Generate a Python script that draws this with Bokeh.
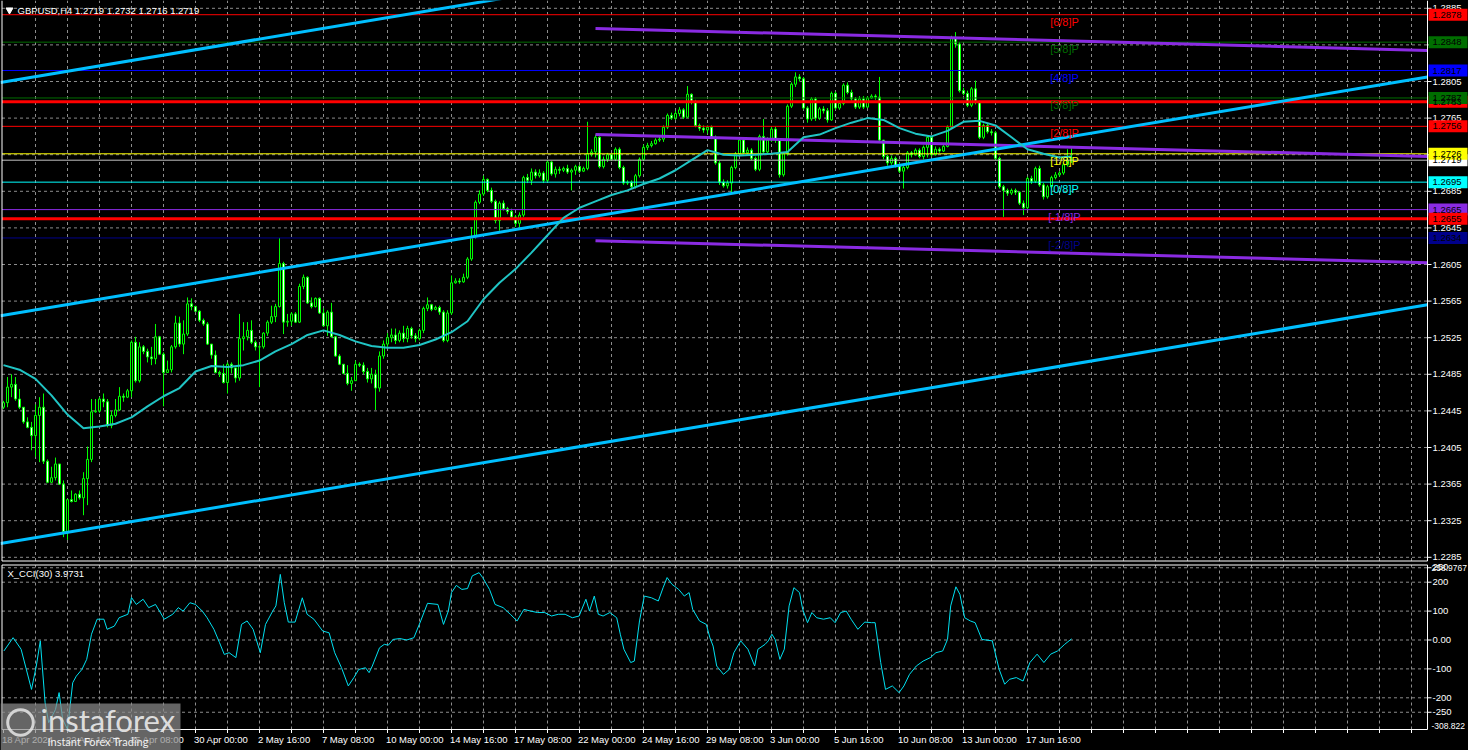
import numpy as np
from bokeh.plotting import figure
from bokeh.layouts import column
from bokeh.models import Range1d
from bokeh.core.properties import value
from bokeh.embed import file_html
from bokeh.resources import INLINE

# ---------------- data ----------------
TITLE = "GBPUSD,H4  1.2719 1.2732 1.2716 1.2719"
CCI_TITLE = "X_CCI(30) 3.9731"

# H4 bars, prices given in pips above 1.2000 (454 -> 1.2454)
first_open_pips = 449
close_pips = [
    454, 471, 474, 458, 449, 433, 427, 418, 440, 449,
    390, 367, 372, 387, 365, 313, 348, 346, 354, 350,
    371, 392, 444, 445, 458, 455, 429, 440, 446, 461,
    460, 467, 520, 478, 515, 510, 504, 502, 526, 507,
    487, 490, 515, 541, 518, 529, 562, 559, 554, 544,
    540, 518, 506, 487, 486, 476, 496, 492, 481, 524,
    526, 533, 520, 515, 515, 530, 542, 548, 559, 606,
    542, 543, 551, 542, 581, 591, 563, 559, 568, 552,
    538, 553, 526, 505, 496, 486, 475, 478, 496, 495,
    488, 480, 485, 470, 505, 518, 525, 528, 522, 530,
    524, 535, 527, 524, 533, 557, 561, 556, 558, 553,
    522, 552, 585, 587, 586, 591, 611, 635, 673, 682,
    698, 686, 674, 653, 672, 666, 663, 657, 650, 659,
    700, 697, 706, 702, 705, 697, 717, 704, 709, 708,
    710, 706, 708, 712, 707, 710, 726, 728, 744, 712,
    720, 725, 720, 731, 711, 694, 695, 690, 702, 720,
    733, 735, 737, 741, 742, 755, 768, 765, 770, 774,
    766, 791, 783, 757, 754, 752, 755, 744, 716, 695,
    691, 694, 711, 726, 741, 727, 730, 721, 709, 745,
    728, 741, 753, 741, 703, 726, 778, 802, 810, 808,
    776, 764, 786, 765, 775, 773, 763, 792, 776, 781,
    801, 793, 786, 777, 786, 777, 787, 789, 788, 741,
    723, 716, 721, 713, 707, 711, 727, 725, 730, 723,
    733, 744, 725, 731, 729, 734, 755, 853, 846, 795,
    792, 779, 797, 782, 744, 757, 750, 749, 721, 690,
    686, 683, 686, 684, 672, 667, 699, 696, 710, 692,
    679, 690, 700, 703, 705, 714, 719, 719,
]
high_pips = [
    456, 482, 485, 482, 469, 449, 438, 433, 452, 460,
    464, 392, 384, 394, 387, 369, 349, 358, 355, 358,
    378, 406, 458, 458, 460, 464, 458, 445, 458, 471,
    464, 469, 522, 526, 520, 517, 513, 515, 540, 527,
    509, 500, 517, 549, 548, 544, 569, 568, 560, 555,
    546, 542, 518, 511, 489, 496, 498, 498, 487, 551,
    542, 542, 544, 522, 517, 531, 544, 560, 562, 634,
    608, 551, 553, 553, 584, 594, 592, 569, 569, 569,
    557, 555, 563, 527, 507, 496, 495, 482, 500, 498,
    498, 492, 492, 490, 510, 522, 530, 535, 535, 533,
    538, 538, 537, 530, 535, 559, 569, 562, 560, 560,
    555, 555, 593, 590, 590, 595, 613, 646, 675, 686,
    702, 699, 689, 676, 674, 675, 668, 666, 659, 662,
    702, 704, 710, 709, 709, 707, 719, 718, 712, 712,
    712, 714, 710, 714, 714, 712, 761, 731, 747, 745,
    723, 727, 726, 733, 733, 713, 697, 697, 704, 722,
    736, 738, 740, 743, 745, 757, 770, 771, 773, 777,
    776, 800, 792, 785, 759, 757, 757, 757, 746, 718,
    698, 697, 713, 728, 743, 744, 733, 732, 723, 747,
    764, 744, 756, 756, 743, 728, 780, 804, 815, 813,
    810, 778, 788, 788, 777, 778, 776, 794, 794, 783,
    803, 804, 796, 788, 789, 789, 789, 791, 791, 810,
    741, 725, 724, 723, 716, 713, 729, 729, 732, 732,
    735, 746, 745, 734, 733, 736, 757, 855, 859, 848,
    798, 795, 799, 806, 784, 759, 759, 753, 751, 723,
    692, 688, 688, 688, 685, 675, 701, 702, 712, 713,
    694, 692, 702, 706, 707, 716, 731, 732,
]
low_pips = [
    447, 449, 460, 456, 447, 431, 426, 402, 395, 389,
    387, 366, 366, 369, 364, 307, 304, 345, 346, 348,
    331, 342, 389, 443, 443, 449, 427, 426, 438, 445,
    455, 459, 460, 476, 476, 507, 498, 495, 496, 506,
    450, 487, 487, 513, 515, 507, 527, 555, 553, 542,
    538, 517, 502, 486, 482, 475, 464, 486, 476, 478,
    511, 522, 518, 511, 471, 513, 527, 540, 542, 558,
    529, 537, 538, 541, 541, 578, 562, 557, 558, 551,
    537, 527, 525, 504, 495, 485, 473, 467, 478, 493,
    485, 476, 475, 446, 466, 502, 515, 520, 518, 520,
    520, 520, 524, 520, 522, 530, 554, 554, 555, 550,
    520, 520, 550, 584, 584, 585, 589, 609, 633, 671,
    680, 684, 672, 650, 642, 664, 660, 654, 646, 645,
    657, 694, 692, 699, 700, 694, 695, 702, 700, 704,
    706, 704, 686, 703, 705, 706, 708, 723, 722, 710,
    710, 717, 718, 718, 709, 692, 692, 688, 688, 700,
    718, 730, 733, 736, 739, 739, 753, 763, 763, 767,
    764, 765, 780, 755, 751, 749, 748, 742, 714, 692,
    689, 688, 682, 709, 724, 725, 726, 719, 707, 707,
    726, 725, 739, 738, 700, 701, 724, 776, 799, 805,
    774, 760, 762, 762, 763, 770, 760, 762, 774, 774,
    779, 791, 784, 775, 775, 775, 776, 786, 785, 739,
    720, 713, 714, 711, 705, 688, 709, 722, 724, 721,
    720, 722, 723, 724, 727, 728, 733, 753, 842, 793,
    790, 777, 777, 780, 742, 742, 748, 746, 719, 688,
    657, 680, 681, 681, 670, 659, 665, 693, 694, 690,
    676, 677, 688, 698, 701, 703, 712, 716,
]

# moving average (cyan line) read every 4 bars
ma_bars = [0, 4, 8, 12, 16, 20, 24, 28, 32, 36, 40, 44, 48, 52, 56, 60, 64, 68,
           72, 76, 80, 84, 88, 92, 96, 100, 104, 108, 112, 116, 120, 124, 128,
           132, 136, 140, 144, 148, 152, 156, 160, 164, 168, 172, 176, 180, 184,
           188, 192, 196, 200, 204, 208, 212, 216, 220, 224, 228, 232, 236, 240,
           244, 248, 252, 256, 260, 264, 267]
ma_pips = [495, 490, 480, 462, 441, 426, 428, 431, 438, 450, 461, 470, 488, 494,
           493, 495, 500, 510, 518, 528, 533, 528, 521, 516, 514, 514, 517, 523,
           531, 543, 567, 585, 600, 618, 637, 656, 667, 674, 681, 686, 693, 699,
           708, 719, 730, 725, 724, 725, 726, 728, 744, 747, 754, 760, 765, 763,
           754, 748, 745, 751, 761, 762, 757, 744, 731, 726, 722, 723]

# X_CCI(30) sub-window: bar position and value
cci_bars = [0.1, 2.4, 4.4, 7.0, 8.2, 9.2, 10.4, 11.3, 13.0, 13.9, 14.8, 16.0,
            17.3, 18.2, 19.6, 20.8, 22.0, 23.4, 25.1, 25.9, 27.7, 28.9, 31.1,
            32.0, 33.2, 34.9, 36.3, 38.0, 40.2, 42.3, 43.7, 44.9, 46.6, 48.0,
            49.7, 50.9, 52.6, 54.0, 55.2, 56.4, 58.1, 59.5, 60.9, 62.4, 64.2,
            65.5, 67.3, 68.1, 69.2, 70.2, 71.2, 72.9, 74.7, 75.9, 77.6, 79.8,
            81.4, 82.8, 84.5, 86.2, 87.6, 88.8, 90.5, 91.4, 92.2, 94.0, 95.2,
            96.2, 97.4, 99.1, 100.8, 102.6, 104.3, 106.0, 108.6, 110.0, 111.2,
            112.0, 113.2, 114.6, 116.0, 117.2, 118.9, 119.8, 121.5, 122.9,
            124.9, 126.7, 128.4, 130.1, 131.8, 133.5, 135.3, 137.0, 138.7,
            140.4, 142.2, 143.9, 145.6, 146.5, 147.7, 148.7, 149.9, 151.6,
            153.3, 154.2, 155.1, 156.8, 157.7, 159.0, 160.2, 162.0, 163.7,
            164.9, 165.9, 167.1, 168.8, 170.2, 171.4, 172.3, 174.0, 175.7,
            176.6, 177.4, 178.3, 180.0, 181.4, 182.6, 184.3, 186.1, 187.8,
            188.6, 190.4, 191.2, 192.1, 192.9, 194.1, 195.2, 196.4, 197.6,
            199.0, 199.8, 201.0, 202.1, 203.3, 205.0, 206.7, 207.9, 209.3,
            210.7, 211.9, 213.6, 215.3, 217.0, 217.9, 219.3, 220.5, 222.2,
            223.9, 225.1, 226.5, 228.2, 229.9, 231.7, 233.1, 234.8, 236.0,
            236.8, 238.1, 239.1, 240.3, 241.7, 242.9, 244.6, 247.2, 248.9,
            250.3, 251.5, 253.2, 254.9, 256.6, 258.4, 260.1, 261.8, 263.5,
            265.3, 267.0]
cci_vals = [-38, 8, -32, -171, -90, -3, -217, -286, -240, -182, -275, -309,
            -148, -125, -102, -67, 20, 72, 72, 37, 48, 77, 89,
            147, 123, 141, 112, 123, 72, 89, 112, 100, 129, 123,
            100, 77, 37, -9, -50, -44, -61, 54, 66, 37, -44,
            54, 100, 118, 227, 129, 62, 62, 146, 89, 72, 31,
            25, -44, -96, -159, -130, -102, -96, -113, -90, -27, -15,
            -18, 2, 5, 0, 8, 66, 127, 123, 54, 100,
            164, 189, 175, 178, 222, 233, 216, 175, 123,
            112, 89, 66, 106, 100, 95, 95, 83, 89,
            89, 77, 83, 141, 100, 152, 89, 83, 95,
            77, 20, -32, -78, -73, 66, 152, 146, 135,
            181, 216, 193, 175, 152, 164, 106, 66, 54,
            8, -21, -90, -119, -102, -44, -3, -32, -90,
            -32, -15, -3, 20, 2, -67, -32, 118, 181,
            164, 106, 60, 95, 77, 72, 77, 60, 95,
            100, 72, 37, 62, 60, 60, -78, -171, -159,
            -182, -159, -119, -90, -73, -61, -44, -38, 2,
            118, 184, 158, 77, 66, 60, 2, -3, -101,
            -153, -136, -130, -142, -78, -49, -78, -49, -38,
            -15, 4]

# time axis
date_bars = [0, 16, 32, 48, 64, 80, 96, 112, 128, 144, 160, 176, 192, 208, 224,
             240, 256]
date_labels = ["18 Apr 2024", "22 Apr 16:00", "25 Apr 08:00", "30 Apr 00:00",
               "2 May 16:00", "7 May 08:00", "10 May 00:00", "14 May 16:00",
               "17 May 08:00", "22 May 00:00", "24 May 16:00", "29 May 08:00",
               "3 Jun 00:00", "5 Jun 16:00", "10 Jun 08:00", "13 Jun 00:00",
               "17 Jun 16:00"]

price_labels = ["1.2285", "1.2325", "1.2365", "1.2405", "1.2445", "1.2485",
                "1.2525", "1.2565", "1.2605", "1.2645", "1.2685", "1.2725",
                "1.2765", "1.2805", "1.2845", "1.2885"]

# Murrey math levels
mm_names = ["[6/8]P", "[5/8]P", "[4/8]P", "[3/8]P", "[2/8]P", "[1/8]P",
            "[0/8]P", "[-1/8]P", "[-2/8]P"]
mm_prices = [1.2878, 1.2848, 1.2817, 1.2787, 1.2756, 1.2726, 1.2695, 1.2665,
             1.2634]
mm_colors = ["#ff0000", "#006e00", "#0000ff", "#006e00", "#ff0000", "#ffff00",
             "#00ffff", "#8a2be2", "#00008b"]

sr_levels = [1.2783, 1.2655]          # thick red levels
last_price = 1.2719

# trend channel (blue): start bar, start price, end bar, end price
tl_bar0 = [-0.75, -0.75, -0.75]
tl_p0 = [1.2804, 1.2549, 1.2300]
tl_bar1 = [140, 356, 356]
tl_p1 = [1.2907, 1.2810, 1.2561]

# regression channel (purple)
rc_bar0 = [148, 148, 148]
rc_p0 = [1.2863, 1.2747, 1.2631]
rc_bar1 = [356, 356, 356]
rc_p1 = [1.2839, 1.2723, 1.2607]

cci_levels = [250, 200, 100, 0, -100, -200, -250]
cci_level_labels = ["250", "200", "100", "0.00", "-100", "-200", "-250"]
cci_max, cci_min = 258.9767, -308.822

# ---------------- helpers (reference pixel -> data units) ----------------
def bx(rx):
    return (rx - 3.0) / 4.0

def py(ry):
    return 1.2805 - (ry - 81.0) / 9150.0

def cy(ry):
    return (639.5 - ry) / 0.289

FONT = value("Liberation Sans")
GRID = "#8c8c8c"
SPLIT = 562
W, H1, H2 = 1468, SPLIT, 750 - SPLIT
xr = Range1d(bx(0), bx(W))


def make_fig(h, yr):
    f = figure(width=W, height=h, x_range=xr, y_range=yr, output_backend="svg",
               toolbar_location=None, x_axis_type=None, y_axis_type=None,
               min_border=0, background_fill_color="black",
               border_fill_color="black", outline_line_color=None)
    return f


n = min(len(close_pips), len(high_pips), len(low_pips))
idx = np.arange(n)
c = 1.2 + np.array(close_pips[:n]) / 1e4
o = np.concatenate([[1.2 + first_open_pips / 1e4], c[:-1]])
hi = 1.2 + np.array(high_pips[:n]) / 1e4
lo = 1.2 + np.array(low_pips[:n]) / 1e4
top = np.maximum(o, c)
bot = np.minimum(o, c)
hi = np.maximum(hi, top)
lo = np.minimum(lo, bot)
body_fill = ["#000000" if cc > oo else "#ffffff" for oo, cc in zip(o, c)]

L, R = bx(1.5), bx(1427)
vgrid = list(range(8, 353, 8))

# ================= main price window =================
p1 = make_fig(H1, Range1d(py(SPLIT), py(0)))
T1, B1 = py(0), py(560.5)
pt = [float(s) for s in price_labels]

p1.segment(x0=vgrid, y0=[B1] * len(vgrid), x1=vgrid, y1=[T1] * len(vgrid),
           line_color=GRID, line_dash="3 3", line_width=1)
p1.segment(x0=[L] * len(pt), y0=pt, x1=[R] * len(pt), y1=pt,
           line_color=GRID, line_dash="3 3", line_width=1)

# candles
p1.segment(x0=idx, y0=lo, x1=idx, y1=hi, line_color="#00ff00", line_width=1)
p1.vbar(x=idx, width=0.5, top=top, bottom=bot, fill_color=body_fill,
        line_color="#00ff00", line_width=1)

# horizontal levels
p1.segment(x0=[L] * len(mm_prices), y0=mm_prices, x1=[R] * len(mm_prices),
           y1=mm_prices, line_color=mm_colors, line_width=1)
p1.segment(x0=[L, L], y0=sr_levels, x1=[R, R], y1=sr_levels,
           line_color="#ff0000", line_width=3)
p1.segment(x0=[L], y0=[last_price], x1=[R], y1=[last_price],
           line_color="#c0c0c0", line_width=1)

# regression channel & trend channel
p1.segment(x0=rc_bar0, y0=rc_p0, x1=rc_bar1, y1=rc_p1, line_color="#8a2be2",
           line_width=3)
p1.segment(x0=tl_bar0, y0=tl_p0, x1=tl_bar1, y1=tl_p1, line_color="#00bfff",
           line_width=3)

# moving average
p1.line(ma_bars, [1.2 + v / 1e4 for v in ma_pips], line_color="#20c4c4",
        line_width=2)

# Murrey labels
p1.text(x=[bx(1064)] * len(mm_names), y=[pp - 1.0 / 9150 for pp in mm_prices],
        text=mm_names, text_color=mm_colors, text_font=FONT,
        text_font_size="11px", text_align="center", text_baseline="top")

# borders (left, right, bottom)
p1.segment(x0=[L, R, L], y0=[B1, B1, B1], x1=[L, R, R],
           y1=[T1, T1, B1], line_color="white", line_width=1)

# title
p1.scatter(x=[bx(9)], y=[py(9.5)], marker="inverted_triangle", size=7,
           fill_color="white", line_color="white")
p1.text(x=[bx(17)], y=[py(10)], text=[TITLE], text_color="#ffffff",
        text_font=FONT, text_font_size="9.5px", text_align="left",
        text_baseline="middle")

# right price scale
p1.segment(x0=[R] * len(pt), y0=pt, x1=[bx(1431)] * len(pt), y1=pt,
           line_color="white", line_width=1)
p1.text(x=[bx(1432)] * len(pt), y=pt, text=price_labels, text_color="white",
        text_font=FONT, text_font_size="9.5px", text_align="left",
        text_baseline="middle")

tag_prices = [sr_levels[0]] + mm_prices + [sr_levels[1], last_price]
tag_colors = ["#ff0000"] + mm_colors + ["#ff0000", "#ffffff"]
order = [0, 11, 1, 2, 3, 4, 5, 6, 7, 8, 9, 10]
tp = [tag_prices[k] for k in order]
tc = [tag_colors[k] for k in order]
hh = 6.0 / 9150
p1.quad(left=[bx(1428)] * len(tp), right=[bx(1467)] * len(tp),
        top=[v + hh for v in tp], bottom=[v - hh for v in tp], fill_color=tc,
        line_color=None)
p1.text(x=[bx(1432)] * len(tp), y=tp, text=["%.4f" % v for v in tp],
        text_color="#000000", text_font=FONT, text_font_size="9.5px",
        text_align="left", text_baseline="middle")

# ================= CCI window =================
p2 = make_fig(H2, Range1d(cy(750), cy(SPLIT)))
T2, B2 = cy(564.5), cy(729)
p2.segment(x0=vgrid, y0=[B2] * len(vgrid), x1=vgrid, y1=[T2] * len(vgrid),
           line_color=GRID, line_dash="3 3", line_width=1)
p2.segment(x0=[L] * len(cci_levels), y0=cci_levels, x1=[R] * len(cci_levels),
           y1=cci_levels, line_color=GRID, line_dash="3 3", line_width=1)
p2.line(cci_bars, cci_vals, line_color="#00e0f0", line_width=1)
p2.segment(x0=[L, R, L, L], y0=[B2, B2, T2, B2], x1=[L, R, R, R],
           y1=[T2, T2, T2, B2], line_color="white", line_width=1)
p2.text(x=[bx(7)], y=[cy(573)], text=[CCI_TITLE], text_color="white",
        text_font=FONT, text_font_size="9.5px", text_align="left",
        text_baseline="middle")

p2.segment(x0=[R] * len(cci_levels), y0=cci_levels,
           x1=[bx(1431)] * len(cci_levels), y1=cci_levels, line_color="white")
p2.text(x=[bx(1432)] * (len(cci_levels) - 1), y=cci_levels[1:],
        text=cci_level_labels[1:], text_color="white", text_font=FONT,
        text_font_size="9.5px", text_align="left", text_baseline="middle")
p2.text(x=[bx(1432)], y=[cy(563)], text=[cci_level_labels[0]],
        text_color="white", text_font=FONT, text_font_size="9.5px",
        text_align="left", text_baseline="top")
p2.text(x=[bx(1431)], y=[cy(564)], text=["%.4f" % cci_max], text_color="white",
        text_font=FONT, text_font_size="8.5px", text_align="left",
        text_baseline="top")
p2.text(x=[bx(1431)], y=[cci_min], text=["%.3f" % cci_min], text_color="white",
        text_font=FONT, text_font_size="8.5px", text_align="left",
        text_baseline="bottom")

# time axis
xt = list(range(0, 353, 8))
p2.segment(x0=xt, y0=[B2] * len(xt), x1=xt, y1=[cy(732.5)] * len(xt),
           line_color="white")
p2.text(x=[b - 0.4 for b in date_bars], y=[cy(738.5)] * len(date_bars),
        text=date_labels, text_color="white", text_font=FONT,
        text_font_size="9.5px", text_align="left", text_baseline="middle")

# watermark
p2.quad(left=[bx(0)], right=[bx(180)], top=[cy(703)], bottom=[cy(750)],
        fill_color="#8c8c8c", fill_alpha=0.72, line_color=None)
p2.circle(x=[bx(20)], y=[cy(722)], radius=3.2, fill_color=None,
          line_color="#e6e6e6", line_width=3, line_alpha=0.85)
p2.text(x=[bx(40)], y=[cy(719)], text=["instaforex"], text_color="#eeeeee",
        text_alpha=0.9, text_font=value("Lato"), text_font_size="31px",
        text_align="left", text_baseline="middle")
p2.text(x=[bx(47)], y=[cy(741)], text=["Instant Forex Trading"],
        text_color="#f0f0f0", text_font=value("Lato"), text_font_size="11px",
        text_align="left", text_baseline="middle")

layout = column(p1, p2, spacing=0)
html = file_html(layout, INLINE, title="GBPUSD H4")
html = html.replace("<head>", "<head><style>html, body {background-color: #000000;}</style>", 1)
open("out.html", "w").write(html)
